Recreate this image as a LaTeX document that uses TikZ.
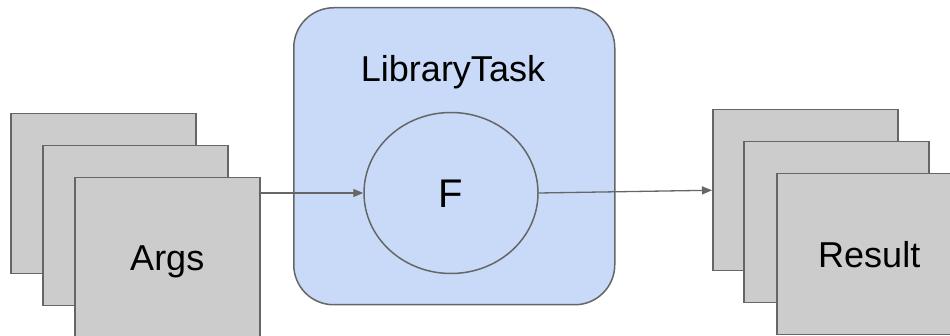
\documentclass[tikz,border=0pt]{standalone}
\usepackage{fontspec}
\setmainfont{Liberation Sans}
\usetikzlibrary{arrows.meta,shapes.geometric}
\definecolor{sheetgray}{HTML}{CCCCCC}
\definecolor{edgegray}{HTML}{666666}
\definecolor{taskblue}{HTML}{C9DAF8}
\begin{document}
\begin{tikzpicture}[x=1pt,y=-1pt,
  sheet/.style={draw=edgegray,fill=sheetgray,line width=1.5pt,
    minimum width=185pt,minimum height=160pt,anchor=north west,inner sep=0pt,
    font=\fontsize{36}{40}\selectfont,text height=26pt,text depth=0pt},
  taskbox/.style={draw=edgegray,fill=taskblue,line width=1.5pt,rounded corners=40pt,
    minimum width=321pt,minimum height=297pt,anchor=north west,inner sep=0pt},
  fn/.style={ellipse,draw=edgegray,fill=taskblue,line width=1.5pt,
    minimum width=174pt,minimum height=161pt,inner sep=0pt,
    font=\fontsize{40}{44}\selectfont,text height=29pt,text depth=0pt},
  caption/.style={font=\fontsize{36}{40}\selectfont,text height=26pt,text depth=0pt,inner sep=0pt},
  flow/.style={draw=edgegray,line width=1.3pt,-{Triangle[length=10pt,width=8pt]}}]
\useasboundingbox (0,0) rectangle (950,336);
\clip (0,0) rectangle (950,336);

% input stack
\node[sheet] (a1) at (10,113) {};
\node[sheet] (a2) at (42,145) {};
\node[sheet] (a3) at (74,177) {Args};

% task container with its function
\node[taskbox] (task) at (293,7) {};
\node[caption] (tasklabel) at (453,68.5) {LibraryTask};
\node[fn] (f) at (451,193) {F};

% result stack
\node[sheet,minimum height=161pt] (r1) at (712,109) {};
\node[sheet,minimum height=161pt] (r2) at (743,141) {};
\node[sheet,minimum height=161pt] (r3) at (776,173) {Result};

% data flow
\draw[flow] (f.west -| a3.east) -- (f.west);
\draw[flow] (f.east) -- (r1.west);
\end{tikzpicture}
\end{document}
